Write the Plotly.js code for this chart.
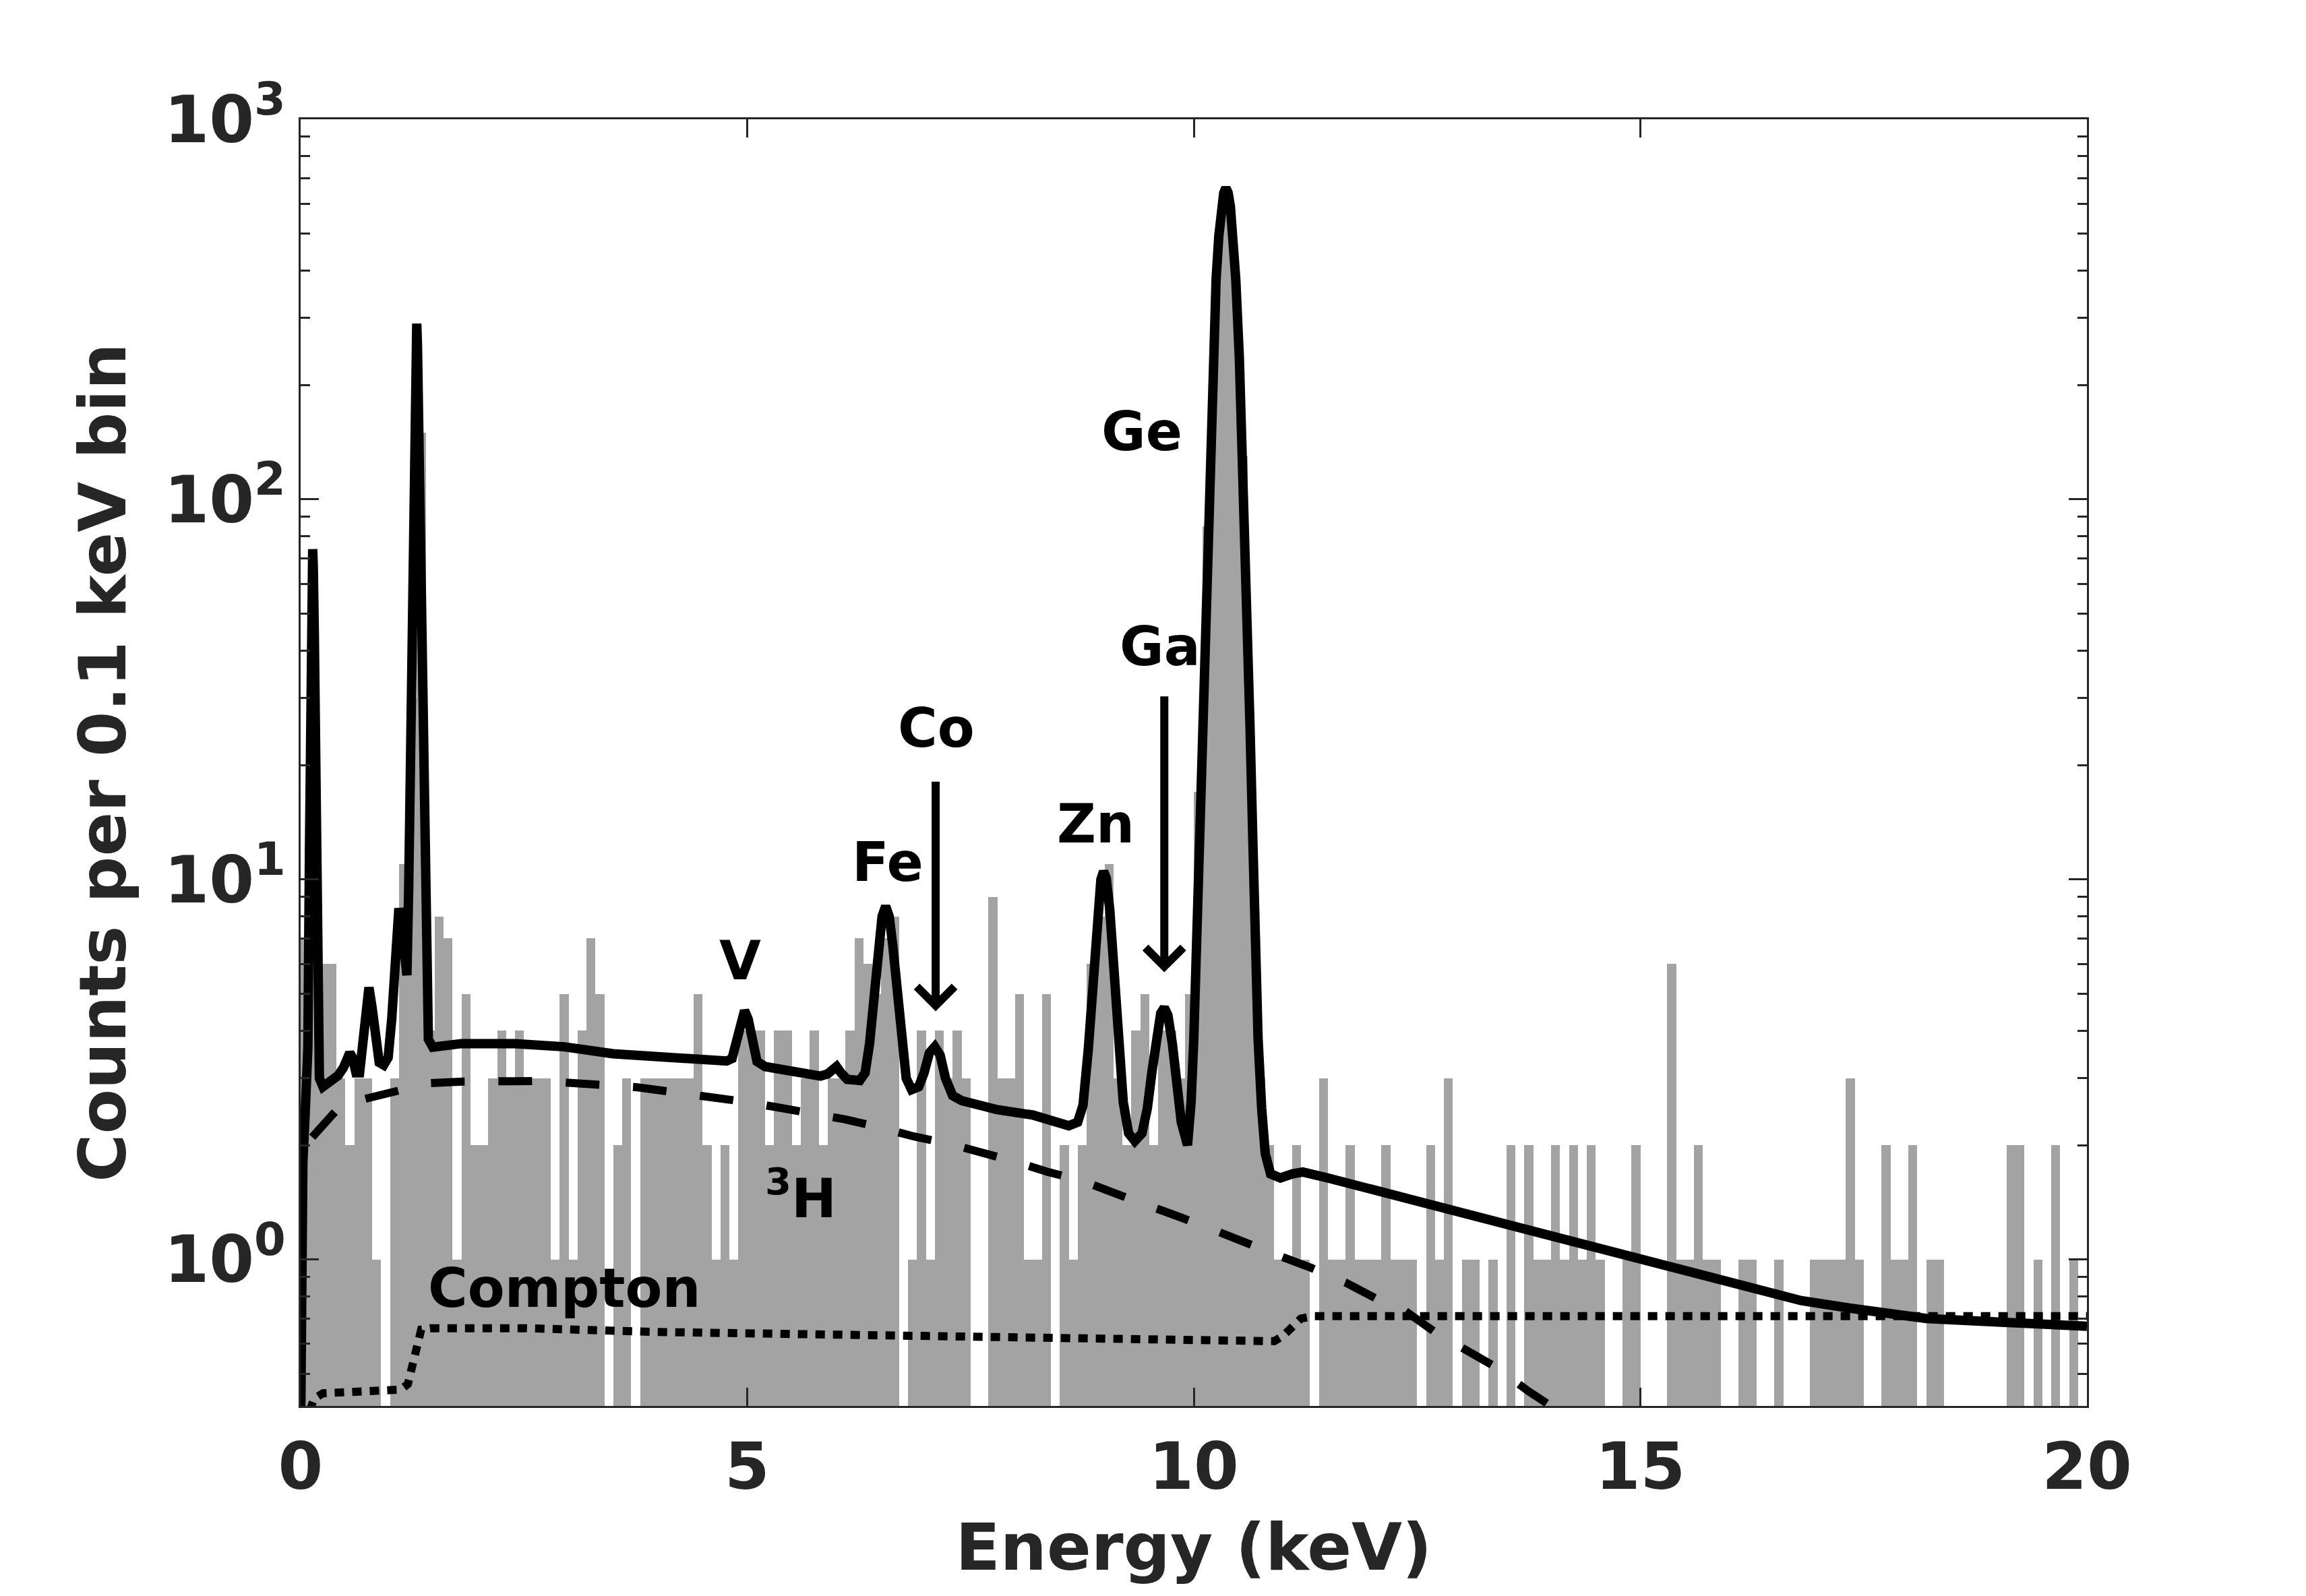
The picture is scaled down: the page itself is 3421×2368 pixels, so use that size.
<!DOCTYPE html>
<html>
<head>
<meta charset="utf-8">
<script src="https://cdn.plot.ly/plotly-3.0.1.min.js"></script>
<style>
  html, body { margin: 0; padding: 0; background: #fff; }
  #chart { width: 3421px; height: 2368px; }
</style>
</head>
<body>
<div id="chart"></div>
<script>
// Histogram: counts per 0.1 keV bin, bins start at 0 keV (one row per keV)
const counts = [
  7, 30, 6, 6, 3, 2, 3, 3, 1, 0,
  3, 11, 30, 150, 4, 8, 7, 1, 5, 2,
  2, 3, 4, 3, 4, 3, 3, 3, 1, 5,
  1, 4, 7, 5, 0, 2, 3, 0, 3, 3,
  3, 3, 3, 3, 5, 2, 1, 2, 1, 4,
  4, 4, 2, 4, 4, 2, 3, 4, 2, 3,
  3, 4, 7, 6, 5, 7, 8, 0, 1, 4,
  1, 4, 3, 4, 3, 0, 0, 9, 3, 3,
  5, 1, 1, 5, 0, 2, 1, 2, 6, 8,
  11, 3, 2, 4, 5, 2, 4, 4, 3, 5,
  17, 85, 360, 600, 440, 130, 16, 3, 2, 1,
  1, 2, 1, 0, 3, 1, 1, 2, 1, 1,
  1, 2, 1, 1, 1, 0, 2, 1, 3, 0,
  1, 1, 0, 1, 0, 2, 0, 2, 1, 1,
  2, 1, 2, 1, 2, 1, 0, 0, 1, 2,
  0, 0, 0, 6, 1, 1, 2, 1, 1, 0,
  0, 1, 1, 0, 0, 1, 0, 0, 0, 1,
  1, 1, 1, 3, 1, 0, 0, 2, 1, 1,
  2, 0, 1, 1, 0, 0, 0, 0, 0, 0,
  0, 2, 2, 0, 1, 0, 2, 0, 1, 0
];

// Total fitted model (solid)
const modelE = [
  0.000, 0.010, 0.025, 0.050, 0.081, 0.099, 0.117, 0.128, 0.135, 0.142,
  0.153, 0.171, 0.189, 0.21, 0.25, 0.35, 0.42, 0.48, 0.52, 0.55,
  0.58, 0.62, 0.66, 0.70, 0.735, 0.765, 0.80, 0.84, 0.88, 0.93,
  0.98, 1.02, 1.06, 1.10, 1.14, 1.19, 1.21, 1.228, 1.246, 1.264,
  1.282, 1.292, 1.30, 1.308, 1.318, 1.336, 1.354, 1.372, 1.39, 1.408,
  1.43, 1.48, 1.8, 2.4, 2.95, 3.5, 4.1, 4.77, 4.83, 4.88,
  4.93, 4.97, 5.01, 5.06, 5.11, 5.2, 5.5, 5.82, 5.90, 5.96,
  6.00, 6.05, 6.12, 6.26, 6.32, 6.37, 6.42, 6.47, 6.51, 6.55,
  6.59, 6.63, 6.68, 6.73, 6.78, 6.84, 6.92, 6.98, 7.04, 7.10,
  7.16, 7.22, 7.30, 7.40, 7.8, 8.2, 8.60, 8.70, 8.76, 8.82,
  8.87, 8.92, 8.96, 8.99, 9.02, 9.06, 9.11, 9.16, 9.21, 9.27,
  9.34, 9.42, 9.48, 9.53, 9.58, 9.63, 9.67, 9.71, 9.76, 9.81,
  9.86, 9.93, 9.97, 10.00, 10.03, 10.06, 10.09, 10.13, 10.17, 10.21,
  10.25, 10.28, 10.31, 10.335, 10.36, 10.385, 10.41, 10.44, 10.47, 10.51,
  10.55, 10.59, 10.63, 10.66, 10.69, 10.72, 10.76, 10.80, 10.86, 10.97,
  11.1, 11.22, 11.5, 12.0, 12.34, 13.0, 13.6, 14.3, 15.0, 15.7,
  16.3, 16.8, 17.35, 18.2, 19.0, 20.0
];
const modelY = [
  0.35, 1.0, 1.8, 2.4, 3.6, 12, 45, 66, 74, 66,
  45, 12, 4.0, 3.0, 2.85, 2.95, 3.05, 3.2, 3.4, 3.5,
  3.4, 3.1, 3.1, 3.7, 4.7, 5.2, 4.6, 3.7, 3.3, 3.25,
  3.4, 4.3, 6.6, 8.4, 7.3, 5.6, 9.5, 20, 45, 98,
  180, 255, 290, 255, 180, 98, 45, 18, 8.5, 5.0,
  3.8, 3.62, 3.7, 3.7, 3.63, 3.48, 3.42, 3.33, 3.38, 3.75,
  4.35, 4.52, 4.3, 3.7, 3.32, 3.22, 3.12, 3.04, 3.08, 3.2,
  3.22, 3.1, 2.98, 2.96, 3.1, 3.7, 4.9, 6.6, 8.0, 8.5,
  8.0, 6.7, 4.9, 3.6, 3.0, 2.8, 2.85, 3.1, 3.5, 3.63,
  3.45, 3.0, 2.7, 2.62, 2.48, 2.4, 2.25, 2.3, 2.55, 3.6,
  5.5, 8.0, 10.0, 10.5, 10.1, 8.3, 5.6, 3.6, 2.6, 2.15,
  2.05, 2.15, 2.5, 3.1, 3.9, 4.45, 4.6, 4.4, 3.7, 2.9,
  2.3, 2.0, 2.6, 3.8, 6.5, 13, 25, 58, 125, 236,
  380, 492, 590, 640, 660, 640, 590, 492, 380, 236,
  125, 58, 25, 13, 6.5, 3.8, 2.5, 1.9, 1.68, 1.64,
  1.68, 1.70, 1.64, 1.53, 1.46, 1.33, 1.21, 1.1, 1.0, 0.91,
  0.83, 0.78, 0.745, 0.70, 0.685, 0.668
];

// Tritium beta spectrum (dashed)
const tritiumE = [
  0.13, 0.4, 0.7, 1.08, 1.43, 1.82, 2.3, 2.6, 3.0, 3.38,
  3.77, 4.16, 4.54, 4.93, 5.32, 5.71, 6.09, 6.48, 6.86, 7.25,
  7.62, 8.0, 8.37, 8.76, 9.13, 9.51, 9.86, 10.25, 10.6, 10.97,
  11.32, 11.7, 12.04, 12.34, 12.72, 13.09, 13.39, 13.75, 14.1, 14.3
];
const tritiumY = [
  2.1, 2.47, 2.64, 2.79, 2.91, 2.94, 2.96, 2.95, 2.92, 2.88,
  2.84, 2.76, 2.70, 2.61, 2.52, 2.44, 2.34, 2.23, 2.11, 2.02,
  1.92, 1.81, 1.70, 1.61, 1.49, 1.39, 1.29, 1.19, 1.10, 1.02,
  0.95, 0.87, 0.79, 0.74, 0.64, 0.57, 0.52, 0.45, 0.40, 0.37
];

// Compton continuum (dotted)
const comptonE = [
  0.10, 0.15, 0.25, 0.6, 1.12, 1.20, 1.25, 1.30, 1.35, 1.45,
  2.5, 4.0, 6.0, 8.0, 10.0, 10.9, 11.0, 11.1, 11.2, 11.35,
  14.0, 17.0, 20.0
];
const comptonY = [
  0.40, 0.43, 0.445, 0.45, 0.455, 0.47, 0.53, 0.61, 0.655, 0.66,
  0.66, 0.645, 0.635, 0.625, 0.615, 0.61, 0.63, 0.67, 0.70, 0.71,
  0.71, 0.71, 0.71
];

// Peak labels
const labelText = ['Ge', 'Ga', 'Co', 'Zn', 'Fe', 'V', '<sup>3</sup>H', 'Compton'];
const labelE = [9.42, 9.62, 7.12, 8.90, 6.57, 4.92, 5.60, 2.95];
const labelY = [151, 41, 25, 14, 11.1, 6.1, 1.48, 0.84];

// Arrows (Co, Ga): tail and head counts
const arrowE = [7.11, 9.67];
const arrowTail = [18.2, 30.5];
const arrowHead = [4.5, 5.7];

const yTickVals = [1, 10, 100, 1000];
const yTickText = ['10<sup>0</sup>', '10<sup>1</sup>', '10<sup>2</sup>', '10<sup>3</sup>'];
const xTickVals = [0, 5, 10, 15, 20];

const INK = '#262626';
const FONT = 'DejaVu Sans';

const traces = [
  {
    type: 'bar',
    x0: 0.05,
    dx: 0.1,
    y: counts.map(c => (c > 0 ? c : null)),
    width: 0.1,
    marker: { color: '#a3a3a3', line: { width: 0 } },
    hoverinfo: 'skip'
  },
  {
    type: 'scatter', mode: 'lines',
    x: comptonE, y: comptonY,
    line: { color: '#000', width: 12, dash: '14px,12px' }
  },
  {
    type: 'scatter', mode: 'lines',
    x: tritiumE, y: tritiumY,
    line: { color: '#000', width: 12, dash: '50px,50px' }
  },
  {
    type: 'scatter', mode: 'lines',
    x: modelE, y: modelY,
    line: { color: '#000', width: 14 }
  }
];

const annotations = labelText.map((t, i) => ({
  x: labelE[i], y: Math.log10(labelY[i]),
  xref: 'x', yref: 'y',
  text: t, showarrow: false,
  font: { family: FONT, weight: 'bold', size: 80, color: '#000' }
}));

arrowE.forEach((e, i) => {
  annotations.push({
    x: e, y: Math.log10(arrowHead[i]),
    ax: e, ay: Math.log10(arrowTail[i]),
    xref: 'x', yref: 'y', axref: 'x', ayref: 'y',
    text: '', showarrow: true,
    arrowhead: 4, arrowsize: 0.9, arrowwidth: 12, arrowcolor: '#000'
  });
});

const axisCommon = {
  showline: true, linecolor: INK, linewidth: 3, mirror: 'ticks',
  ticks: 'inside', ticklen: 27, tickwidth: 3, tickcolor: INK,
  showgrid: false, zeroline: false,
  tickfont: { family: FONT, weight: 'bold', size: 96, color: INK }
};

const layout = {
  width: 3421, height: 2368,
  margin: { l: 446, r: 325, t: 177, b: 282 },
  paper_bgcolor: '#fff', plot_bgcolor: '#fff',
  showlegend: false,
  bargap: 0,
  xaxis: Object.assign({}, axisCommon, {
    range: [0, 20],
    tickvals: xTickVals,
    ticktext: xTickVals.map(String),
    ticklabelstandoff: 5,
    title: { text: 'Energy (keV)', standoff: 30,
             font: { family: FONT, weight: 'bold', size: 97, color: INK } }
  }),
  yaxis: Object.assign({}, axisCommon, {
    type: 'log',
    range: [-0.385, 3],
    tickvals: yTickVals,
    ticktext: yTickText,
    minor: { ticks: 'inside', ticklen: 14, tickwidth: 3, tickcolor: INK, dtick: 'D1' },
    title: { text: 'Counts per 0.1 keV bin', standoff: 25,
             font: { family: FONT, weight: 'bold', size: 97, color: INK } }
  }),
  annotations: annotations
};

Plotly.newPlot('chart', traces, layout, { displayModeBar: false, staticPlot: true });
</script>
</body>
</html>
